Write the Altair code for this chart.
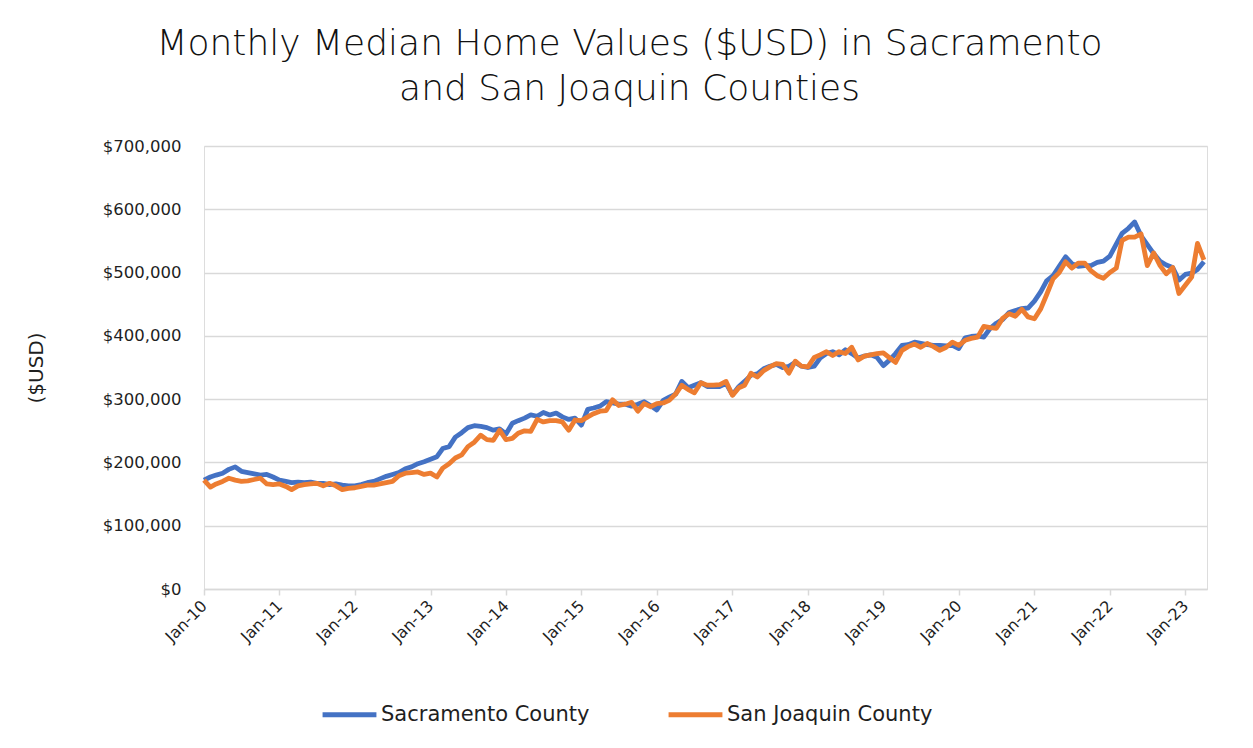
import altair as alt
import pandas as pd

# Monthly median home values (thousands of USD), Jan-2010 .. Apr-2023
sacramento = [
    172, 177, 180, 183, 189, 193, 186, 184, 182, 180, 181, 177,   # 2010
    172, 170, 168, 169, 168, 169, 167, 167, 165, 166, 164, 163,   # 2011
    163, 165, 168, 170, 174, 178, 181, 184, 190, 193, 198, 201,   # 2012
    205, 209, 222, 225, 240, 247, 255, 258, 257, 255, 251, 253,   # 2013
    245, 262, 266, 270, 275, 273, 279, 275, 278, 272, 268, 270,   # 2014
    259, 284, 286, 289, 296, 294, 292, 292, 289, 292, 296, 290,   # 2015
    283, 298, 303, 308, 328, 318, 322, 326, 320, 320, 320, 325,   # 2016
    307, 320, 328, 338, 340, 348, 352, 355, 350, 352, 358, 352,   # 2017
    350, 352, 365, 372, 375, 370, 378, 372, 365, 368, 370, 366,   # 2018
    353, 362, 372, 385, 386, 390, 388, 386, 385, 385, 384, 385,   # 2019
    380, 397, 399, 400, 398, 412, 420, 426, 437, 440, 443, 444,   # 2020
    455, 470, 487, 495, 510, 525, 514, 510, 511, 511, 516, 518,   # 2021
    526, 545, 562, 570, 580, 558, 544, 530, 518, 512, 508, 488,   # 2022
    497, 499, 505, 517,                                           # 2023
]
san_joaquin = [
    172, 161, 166, 170, 175, 172, 170, 171, 173, 175, 166, 165,   # 2010
    166, 162, 157, 163, 165, 166, 167, 163, 167, 163, 157, 159,   # 2011
    160, 162, 164, 164, 166, 168, 170, 179, 183, 184, 185, 181,   # 2012
    183, 177, 191, 198, 207, 212, 225, 232, 243, 236, 235, 251,   # 2013
    236, 238, 246, 250, 249, 268, 264, 266, 266, 264, 251, 267,   # 2014
    266, 272, 277, 281, 282, 299, 290, 292, 295, 281, 293, 288,   # 2015
    293, 294, 298, 308, 322, 315, 310, 326, 322, 322, 323, 328,   # 2016
    306, 318, 322, 341, 335, 345, 351, 356, 355, 341, 360, 352,   # 2017
    351, 366, 370, 375, 369, 375, 372, 382, 362, 368, 370, 372,   # 2018
    373, 365, 358, 377, 383, 387, 382, 388, 383, 377, 382, 390,   # 2019
    385, 393, 396, 398, 415, 413, 412, 428, 435, 431, 442, 430,   # 2020
    427, 443, 465, 490, 500, 517, 507, 515, 515, 503, 495, 491,   # 2021
    500, 507, 551, 556, 556, 561, 511, 531, 511, 498, 508, 467,   # 2022
    480, 493, 546, 520,                                           # 2023
]
series_names = ["Sacramento County", "San Joaquin County"]
series_colors = ["#4472C4", "#ED7D31"]
y_ticks = [0, 100000, 200000, 300000, 400000, 500000, 600000, 700000]

dates = pd.date_range("2010-01-01", periods=len(sacramento), freq="MS")
df = pd.concat([
    pd.DataFrame({"date": dates, "value": [v * 1000 for v in sacramento],
                  "series": series_names[0], "order": 0}),
    pd.DataFrame({"date": dates, "value": [v * 1000 for v in san_joaquin],
                  "series": series_names[1], "order": 1}),
])

FONT = "DejaVu Sans"
TXT = "#1f1f1f"

chart = alt.Chart(df).mark_line(strokeWidth=4.8, strokeJoin="round").encode(
    x=alt.X("date:T",
            scale=alt.Scale(domain=["2010-01-01", "2023-04-16"]),
            axis=alt.Axis(title=None, format="%b-%y", tickCount={"interval": "year", "step": 1},
                          labelAngle=-45, labelAlign="right", labelBaseline="middle",
                          labelFontSize=16, labelColor=TXT, labelFont=FONT, labelPadding=8,
                          grid=False, domainColor="#d9d9d9", domainWidth=1.5,
                          tickColor="#d9d9d9", tickSize=6, tickWidth=1.5,
                          labelOverlap=False, labelFlush=False)),
    y=alt.Y("value:Q",
            scale=alt.Scale(domain=[0, 700000], nice=False),
            axis=alt.Axis(title="($USD)", values=y_ticks, format="$,.0f",
                          labelFontSize=16.5, labelColor=TXT, labelFont=FONT, labelPadding=23,
                          titleFontSize=20, titleColor=TXT, titleFont=FONT, titleFontWeight="normal",
                          titlePadding=56,
                          domain=False, ticks=False, gridColor="#d9d9d9", gridWidth=1.5)),
    color=alt.Color("series:N",
                    scale=alt.Scale(domain=series_names, range=series_colors),
                    legend=alt.Legend(title=None, orient="none", direction="horizontal",
                                      legendX=116, legendY=539,
                                      symbolType="stroke", symbolSize=2900, symbolStrokeWidth=5,
                                      labelFontSize=21, labelColor=TXT, labelFont=FONT,
                                      labelLimit=400, labelOffset=2, columnPadding=68)),
    order="order:Q",
).properties(
    width=1003,
    height=443,
    autosize=alt.AutoSizeParams(type="none"),
    padding={"left": 196, "top": 138, "right": 38, "bottom": 150},
    title=alt.TitleParams(
        text=["Monthly Median Home Values ($USD) in Sacramento", "and San Joaquin Counties"],
        fontSize=36, font=FONT, fontWeight=300, color="#111111", lineHeight=45,
        anchor="middle", dx=-76, offset=30,
    ),
).configure_view(stroke=None).configure(background="white")

chart.save("out.html", embed_options={"renderer": "svg", "actions": False})
